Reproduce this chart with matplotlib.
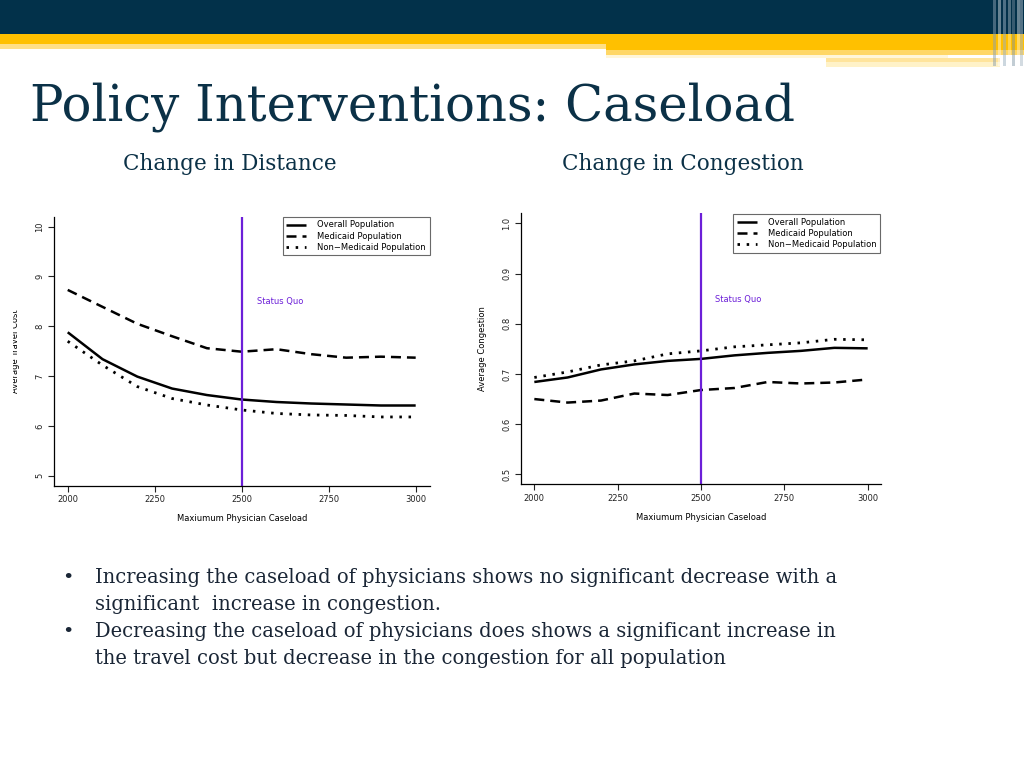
import numpy as np
import matplotlib
matplotlib.use("Agg")
import matplotlib.pyplot as plt
from matplotlib.patches import Rectangle
from matplotlib.transforms import Bbox

# data
caseload = [2000, 2100, 2200, 2300, 2400, 2500, 2600, 2700, 2800, 2900, 3000]

cost_overall = [7.88, 7.34, 6.99, 6.75, 6.62, 6.53, 6.48, 6.45, 6.43, 6.41, 6.41]
cost_medicaid = [8.73, 8.39, 8.05, 7.80, 7.56, 7.49, 7.54, 7.44, 7.37, 7.39, 7.37]
cost_nonmedicaid = [7.70, 7.22, 6.79, 6.55, 6.42, 6.32, 6.25, 6.22, 6.21, 6.18, 6.18]

cong_overall = [0.684, 0.693, 0.709, 0.719, 0.726, 0.730, 0.737, 0.742, 0.746, 0.752, 0.751]
cong_medicaid = [0.650, 0.643, 0.647, 0.661, 0.658, 0.668, 0.672, 0.684, 0.681, 0.683, 0.689]
cong_nonmedicaid = [0.693, 0.704, 0.718, 0.726, 0.740, 0.746, 0.754, 0.758, 0.762, 0.769, 0.768]

status_quo = 2500
legend_names = ["Overall Population", "Medicaid Population", "Non\u2212Medicaid Population"]

W, H = 1024, 768
fig = plt.figure(figsize=(W / 100, H / 100), dpi=100)
fig.patch.set_facecolor("white")

def px(x, y):
    # pixel position (from top-left) -> figure fraction
    return x / W, 1 - y / H

def box(x0, y0, x1, y1, color, alpha=1.0):
    fig.patches.append(Rectangle(px(x0, y1), (x1 - x0) / W, (y1 - y0) / H,
                                 transform=fig.transFigure, color=color,
                                 alpha=alpha, lw=0, zorder=0))

# slide header
box(0, 0, 1024, 34, "#02314a")
box(0, 34, 1024, 44, "#ffc000")
box(0, 44, 606, 49, "#ffdf86")
box(606, 44, 1024, 50, "#ffc000")
box(606, 50, 1024, 55, "#ffd766")
box(606, 55, 948, 58, "#fff6d9")
box(826, 58, 1000, 62, "#ffe49c")
box(826, 62, 1000, 67, "#fff2c8")
for xs, c, a in [(993, "#8aa0b0", 0.5), (998, "#ffffff", 0.4), (1003, "#9ab0c0", 0.5),
                 (1008, "#ffffff", 0.3), (1012, "#7890a0", 0.45), (1017, "#ffffff", 0.4),
                 (1020, "#a8b8c4", 0.5)]:
    box(xs, 0, xs + 2.5, 66, c, a)

navy = "#0b3147"
fig.text(*px(30, 121), "Policy Interventions: Caseload", fontsize=35.8,
         family="DejaVu Serif", color=navy, va="baseline", ha="left")
fig.text(*px(230, 170), "Change in Distance", fontsize=15.5,
         family="DejaVu Serif", color=navy, va="baseline", ha="center")
fig.text(*px(683, 170), "Change in Congestion", fontsize=15.5,
         family="DejaVu Serif", color=navy, va="baseline", ha="center")

bullets = [
    ["Increasing the caseload of physicians shows no significant decrease with a",
     "significant  increase in congestion."],
    ["Decreasing the caseload of physicians does shows a significant increase in",
     "the travel cost but decrease in the congestion for all population"],
]
yb = 583
for lines in bullets:
    fig.text(*px(62, yb), "\u2022", fontsize=14, family="DejaVu Serif",
             color="#1a2636", va="baseline")
    for ln in lines:
        fig.text(*px(95, yb), ln, fontsize=14.05, family="DejaVu Serif",
                 color="#1a2636", va="baseline")
        yb += 27

purple = "#6c1fd8"
styles = [dict(ls="-", lw=1.8), dict(ls=(0, (4, 2.4)), lw=1.8), dict(ls=(0, (0.9, 2.4)), lw=2.0)]

def panel(rect_px, series, ylim, yticks, ylabel, sq_y, legend_pad):
    x0, y0, x1, y1 = rect_px
    l, t = px(x0, y0)
    r, b = px(x1, y1)
    ax = fig.add_axes([l, b, r - l, t - b])
    for vals, name, st in zip(series, legend_names, styles):
        ax.plot(caseload, vals, color="black", label=name,
                dash_capstyle="butt", solid_capstyle="butt", **st)
    ax.axvline(status_quo, color=purple, lw=1.6)
    ax.text(2543, sq_y, "Status Quo", color=purple, fontsize=6, va="center")
    ax.set_xlim(1960, 3040)
    ax.set_ylim(*ylim)
    ax.set_xticks([2000, 2250, 2500, 2750, 3000])
    ax.set_yticks(yticks)
    ax.set_yticklabels([str(v) for v in yticks], rotation=90, va="center")
    for s in ["top", "right"]:
        ax.spines[s].set_visible(False)
    for s in ["left", "bottom"]:
        ax.spines[s].set_linewidth(0.9)
    ax.tick_params(direction="out", length=4, width=0.8, labelsize=6,
                   colors="#222222", pad=3)
    ax.set_xlabel("Maxiumum Physician Caseload", fontsize=6, labelpad=7)
    yl = ax.set_ylabel(ylabel, fontsize=6, labelpad=11)
    yl.set_clip_on(True)
    yl.set_clip_box(Bbox([[13, 0], [W, H]]))
    leg = ax.legend(loc="upper right", fontsize=6.0, frameon=True, fancybox=False,
                    edgecolor="#444444", borderaxespad=legend_pad, handlelength=2.4,
                    labelspacing=0.25, borderpad=0.45, handletextpad=1.3)
    leg.get_frame().set_linewidth(0.8)
    return ax

panel((53.8, 216.7, 429.6, 485.7),
      [cost_overall, cost_medicaid, cost_nonmedicaid],
      (4.8, 10.2), [5, 6, 7, 8, 9, 10], "Average Travel Cost", 8.5, 0.0)
panel((521, 213.3, 881, 484.4),
      [cong_overall, cong_medicaid, cong_nonmedicaid],
      (0.48, 1.02), [0.5, 0.6, 0.7, 0.8, 0.9, 1.0], "Average Congestion", 0.849, 0.1)

fig.savefig("out.png", dpi=100)
